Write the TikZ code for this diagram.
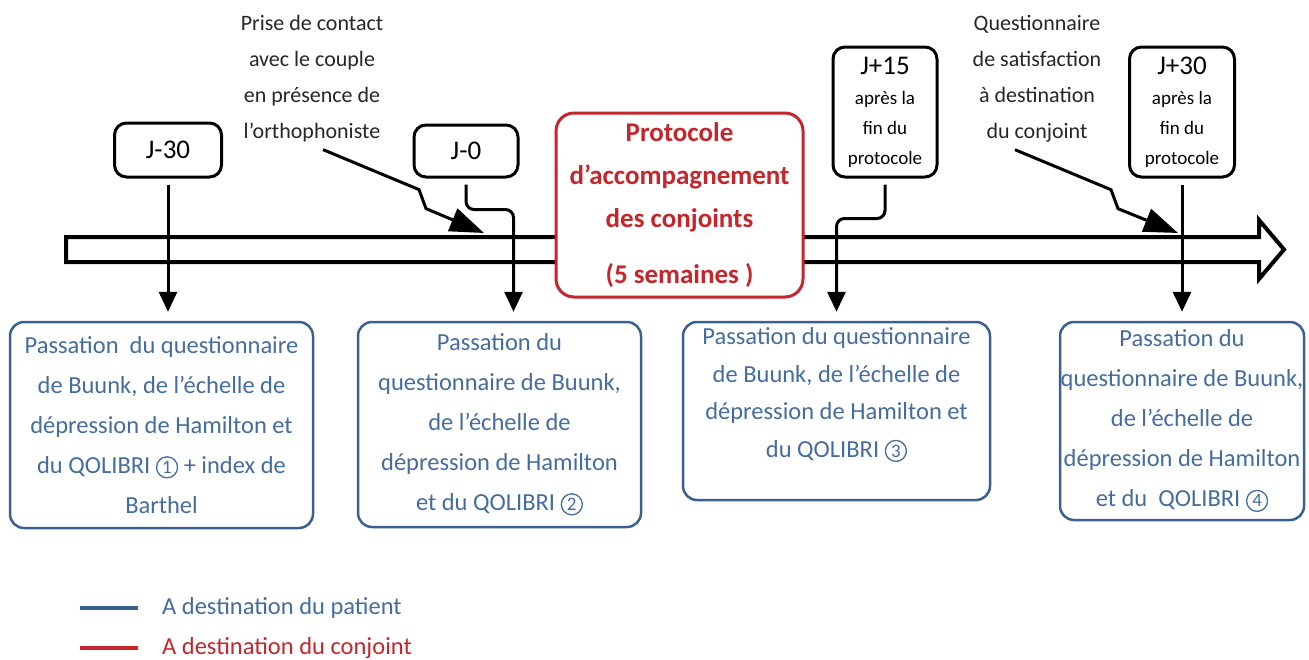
\documentclass[tikz,border=0pt]{standalone}
\usepackage{fontspec}
\setmainfont{Carlito}
\usepackage{tikz}
\usetikzlibrary{arrows.meta}
\usetikzlibrary{positioning}
\definecolor{patblue}{RGB}{68,108,158}
\definecolor{patedge}{RGB}{58,96,146}
\definecolor{conjred}{RGB}{196,38,44}
\newcommand\boxfont{\fontsize{24.5}{40}\selectfont}
\newcommand\notefont{\fontsize{22}{36}\selectfont}
\newcommand\jfont{\fontsize{27}{32}\selectfont}
\newcommand\smfont{\fontsize{19}{30}\selectfont}
\newcommand\protfont{\fontsize{27}{43}\selectfont\bfseries}
\newcommand\cnum[1]{\tikz[baseline=(c.base)]\node[circle,draw=patblue,line width=1.3pt,
   minimum size=21pt,inner sep=0pt,font=\fontsize{19}{19}\selectfont](c){#1};}
\tikzset{jour/.style={draw, line width=3pt, rounded corners=12pt, inner sep=0pt, align=center}}
\tikzset{patient/.style={draw=patedge, text=patblue, line width=2.5pt, rounded corners=14pt,
   inner sep=0pt, align=center, font=\boxfont}}
\tikzset{note/.style={align=center, inner sep=0pt, font=\notefont, text=black!85}}
\begin{document}
\begin{tikzpicture}[x=1pt,y=-1pt,
   conn/.style={-{Triangle[width=18pt,length=20pt]}, line width=3pt, shorten <=6pt, shorten >=9pt},
   zap/.style={-{Triangle[width=24pt,length=34pt]}, line width=3pt},
   legend/.style={line width=4pt}]
   \useasboundingbox (0,0) rectangle (1309,659);

   % time line
   \draw[line width=4pt, fill=white] (66,237) -- (1259,237) -- (1259,220) -- (1284,249.5)
      -- (1259,279) -- (1259,262) -- (66,262) -- cycle;

   % days
   \node[jour, minimum width=107pt, minimum height=54pt, font=\jfont] (jm30) at (168,150) {J-30};
   \node[jour, minimum width=104pt, minimum height=52pt, font=\jfont] (jm0) at (466,151) {J-0};
   \node[jour, minimum width=104pt, minimum height=130pt, font=\smfont] (jp15) at (885,112)
      {{\jfont J+15}\\après la\\fin du\\protocole};
   \node[jour, minimum width=105pt, minimum height=130pt, font=\smfont] (jp30) at (1182,112)
      {{\jfont J+30}\\après la\\fin du\\protocole};

   \node[draw=conjred, text=conjred, fill=white, line width=3pt, rounded corners=18pt,
      minimum width=247pt, minimum height=184pt, inner sep=0pt, align=center, font=\protfont]
      (prot) at (679.5,205) {Protocole\\d’accompagnement\\des conjoints\\[13pt](5 semaines )};

   \node[note] (N1) at (312,79) {Prise de contact\\avec le couple\\en présence de\\l’orthophoniste};
   \node[note] (N2) at (1037,79) {Questionnaire\\de satisfaction\\à destination\\du conjoint};

   % tests
   \node[patient, minimum width=303pt, minimum height=206pt] (P1) at (161.5,425)
      {Passation\ \ du questionnaire\\de Buunk, de l’échelle de\\dépression de Hamilton et\\du QOLIBRI \cnum{1} + index de\\Barthel};
   \node[patient, minimum width=283pt, minimum height=205pt] (P2) at (499.5,424.5)
      {Passation du\\questionnaire de Buunk,\\de l’échelle de\\dépression de Hamilton\\et du QOLIBRI \cnum{2}};
   \node[patient, minimum width=307pt, minimum height=178pt, font=\fontsize{24.5}{37.5}\selectfont] (P3) at (836.5,411)
      {Passation du questionnaire\\de Buunk, de l’échelle de\\dépression de Hamilton et\\du QOLIBRI \cnum{3}\\\mbox{}};
   \node[patient, minimum width=244pt, minimum height=198pt] (P4) at (1182,421)
      {Passation du\\questionnaire de Buunk,\\de l’échelle de\\dépression de Hamilton\\et du\ \ QOLIBRI \cnum{4}};

   \coordinate (z1) at (484,233);
   \coordinate (z2) at (1178,233);

   \draw[conn] (jm30.south) -- (jm30.south |- P1.north);
   \draw[conn, rounded corners=8pt] (jm0.south) -- ++(0,31) -| ([xshift=14pt]P2.north);
   \draw[conn, rounded corners=8pt] (jp15.south) -- ++(0,40) -| (P3.north);
   \draw[conn] (jp30.south) -- (P4.north);

   \draw[zap] ([shift={(11,7)}]N1.south) -- ++(96,40) -- ++(7,19) -- (z1);
   \draw[zap] ([shift={(-22,7)}]N2.south) -- ++(96,40) -- ++(7,19) -- (z2);

   % legend
   \node[anchor=west, inner sep=0pt, text=patblue, font=\boxfont] (L1) at (162,608) {A destination du patient};
   \node[anchor=west, inner sep=0pt, text=conjred, font=\boxfont] (L2) at (162,648) {A destination du conjoint};
   \draw[legend, patedge] ([xshift=-24pt]L1.west) -- ++(-58,0);
   \draw[legend, conjred] ([xshift=-24pt]L2.west) -- ++(-58,0);
\end{tikzpicture}
\end{document}
